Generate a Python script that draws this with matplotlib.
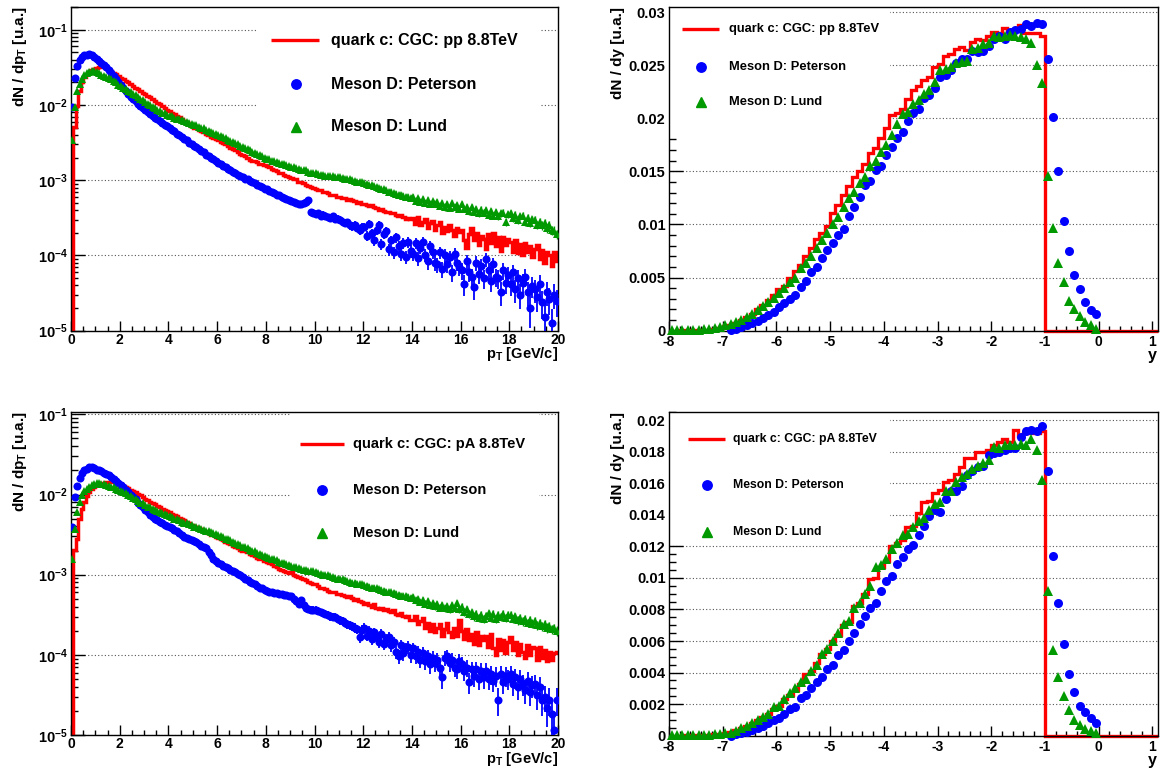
import numpy as np
import matplotlib
matplotlib.use('Agg')
import matplotlib.pyplot as plt
from matplotlib.ticker import MultipleLocator, LogLocator, FuncFormatter, NullFormatter
from matplotlib.patches import Rectangle

plt.rcParams['font.family'] = ['Liberation Sans', 'DejaVu Sans']
plt.rcParams['font.weight'] = 'bold'
plt.rcParams['mathtext.fontset'] = 'custom'
plt.rcParams['mathtext.rm'] = 'Liberation Sans:bold'
plt.rcParams['mathtext.it'] = 'Liberation Sans:bold'
plt.rcParams['mathtext.bf'] = 'Liberation Sans:bold'
plt.rcParams['mathtext.default'] = 'rm'

# ---------------- histogram binning ----------------
pt_lo, pt_hi, pt_nbins = 0.0, 20.0, 200
y_lo, y_hi, y_nbins = -8.0, 1.1, 91
y_pet_first, y_lund_first = -6.85, -7.95   # first filled bin centres of the D-meson rapidity points

# ---------------- pp : log10(dN/dpT) ----------------
pp_quark_pt_log10 = [
    -6.00, -2.29, -2.01, -1.81, -1.70, -1.63, -1.59, -1.56, -1.54, -1.52,
    -1.51, -1.50, -1.50, -1.50, -1.51, -1.53, -1.55, -1.57, -1.59, -1.61,
    -1.64, -1.66, -1.68, -1.70, -1.72, -1.75, -1.77, -1.79, -1.81, -1.84,
    -1.86, -1.88, -1.90, -1.92, -1.95, -1.97, -1.99, -2.01, -2.04, -2.06,
    -2.08, -2.10, -2.12, -2.14, -2.16, -2.19, -2.21, -2.23, -2.25, -2.28,
    -2.30, -2.31, -2.33, -2.35, -2.36, -2.39, -2.40, -2.42, -2.44, -2.45,
    -2.47, -2.49, -2.51, -2.52, -2.54, -2.57, -2.59, -2.60, -2.63, -2.65,
    -2.67, -2.68, -2.70, -2.73, -2.74, -2.75, -2.76, -2.78, -2.79, -2.80,
    -2.81, -2.83, -2.85, -2.86, -2.88, -2.90, -2.91, -2.93, -2.95, -2.96,
    -2.97, -2.99, -2.99, -3.03, -3.03, -3.04, -3.06, -3.08, -3.09, -3.10,
    -3.11, -3.13, -3.13, -3.15, -3.16, -3.17, -3.19, -3.20, -3.19, -3.22,
    -3.22, -3.23, -3.24, -3.26, -3.25, -3.26, -3.28, -3.30, -3.29, -3.31,
    -3.31, -3.33, -3.34, -3.33, -3.36, -3.37, -3.39, -3.38, -3.41, -3.42,
    -3.42, -3.44, -3.43, -3.46, -3.47, -3.46, -3.49, -3.51, -3.50, -3.52,
    -3.50, -3.58, -3.49, -3.60, -3.55, -3.52, -3.63, -3.57, -3.54, -3.66,
    -3.60, -3.56, -3.70, -3.62, -3.68, -3.59, -3.66, -3.74, -3.63, -3.69,
    -3.66, -3.80, -3.90, -3.72, -3.64, -3.79, -3.70, -3.86, -3.74, -3.78,
    -3.92, -3.72, -3.84, -3.70, -3.88, -3.76, -3.94, -3.75, -3.86, -3.78,
    -3.82, -3.95, -3.80, -3.97, -3.85, -4.00, -3.84, -3.96, -3.88, -4.02,
    -3.92, -3.86, -4.05, -3.93, -4.10, -3.95, -4.00, -4.14, -3.96, -4.08]

pp_peterson_pt_log10 = [
    -2.02, -1.64, -1.48, -1.40, -1.36, -1.34, -1.33, -1.32, -1.34, -1.36,
    -1.39, -1.41, -1.44, -1.47, -1.50, -1.53, -1.57, -1.61, -1.65, -1.69,
    -1.73, -1.77, -1.81, -1.85, -1.89, -1.92, -1.95, -1.98, -2.01, -2.04,
    -2.06, -2.09, -2.12, -2.14, -2.17, -2.19, -2.21, -2.24, -2.26, -2.28,
    -2.30, -2.33, -2.35, -2.38, -2.40, -2.43, -2.45, -2.47, -2.50, -2.52,
    -2.54, -2.56, -2.58, -2.61, -2.63, -2.66, -2.68, -2.70, -2.72, -2.75,
    -2.77, -2.79, -2.81, -2.83, -2.85, -2.87, -2.89, -2.91, -2.93, -2.94,
    -2.96, -2.98, -2.99, -3.01, -3.03, -3.04, -3.06, -3.08, -3.09, -3.11,
    -3.12, -3.14, -3.15, -3.17, -3.19, -3.20, -3.22, -3.23, -3.25, -3.26,
    -3.28, -3.29, -3.30, -3.31, -3.32, -3.30, -3.29, -3.26, -3.42, -3.43,
    -3.45, -3.44, -3.47, -3.46, -3.48, -3.49, -3.50, -3.48, -3.52, -3.51,
    -3.53, -3.55, -3.57, -3.56, -3.60, -3.61, -3.59, -3.63, -3.66, -3.62,
    -3.62, -3.74, -3.58, -3.70, -3.80, -3.66, -3.60, -3.85, -3.72, -3.68,
    -3.92, -3.80, -3.96, -3.76, -3.88, -3.98, -3.84, -4.02, -3.82, -3.94,
    -3.98, -3.84, -4.04, -3.90, -3.82, -3.99, -4.08, -3.88, -3.96, -4.10,
    -4.12, -3.96, -4.18, -4.00, -4.12, -4.02, -4.22, -3.98, -4.10, -4.16,
    -4.20, -4.38, -4.08, -4.22, -4.28, -4.42, -4.10, -4.25, -4.14, -4.30,
    -4.05, -4.20, -4.34, -4.12, -4.28, -4.30, -4.48, -4.20, -4.36, -4.26,
    -4.38, -4.22, -4.45, -4.30, -4.52, -4.36, -4.28, -4.48, -4.70, -4.40,
    -4.45, -4.55, -4.38, -4.62, -4.82, -4.48, -4.58, -4.90, -4.52, -4.60]

pp_lund_pt_log10 = [
    -2.47, -2.03, -1.81, -1.72, -1.65, -1.60, -1.58, -1.56, -1.55, -1.55,
    -1.56, -1.58, -1.60, -1.61, -1.63, -1.64, -1.66, -1.68, -1.70, -1.73,
    -1.75, -1.77, -1.79, -1.81, -1.83, -1.85, -1.87, -1.89, -1.92, -1.94,
    -1.96, -1.98, -2.00, -2.02, -2.04, -2.06, -2.08, -2.10, -2.11, -2.13,
    -2.14, -2.15, -2.17, -2.18, -2.19, -2.20, -2.21, -2.23, -2.24, -2.25,
    -2.26, -2.27, -2.29, -2.30, -2.31, -2.33, -2.34, -2.36, -2.37, -2.38,
    -2.40, -2.41, -2.43, -2.44, -2.46, -2.48, -2.49, -2.51, -2.52, -2.54,
    -2.56, -2.57, -2.59, -2.60, -2.62, -2.64, -2.65, -2.67, -2.68, -2.70,
    -2.72, -2.72, -2.74, -2.75, -2.76, -2.77, -2.78, -2.79, -2.80, -2.81,
    -2.82, -2.83, -2.84, -2.85, -2.86, -2.87, -2.87, -2.89, -2.90, -2.90,
    -2.91, -2.92, -2.93, -2.93, -2.94, -2.94, -2.95, -2.95, -2.96, -2.96,
    -2.96, -2.97, -2.98, -2.99, -2.99, -3.00, -3.01, -3.02, -3.02, -3.03,
    -3.04, -3.05, -3.06, -3.06, -3.08, -3.09, -3.10, -3.11, -3.12, -3.13,
    -3.15, -3.15, -3.17, -3.18, -3.19, -3.19, -3.21, -3.22, -3.22, -3.23,
    -3.22, -3.27, -3.24, -3.29, -3.25, -3.30, -3.26, -3.32, -3.28, -3.31,
    -3.29, -3.34, -3.30, -3.36, -3.31, -3.37, -3.30, -3.36, -3.33, -3.38,
    -3.32, -3.38, -3.35, -3.41, -3.36, -3.42, -3.38, -3.44, -3.39, -3.43,
    -3.40, -3.46, -3.41, -3.47, -3.42, -3.48, -3.44, -3.43, -3.55, -3.45,
    -3.44, -3.50, -3.46, -3.53, -3.48, -3.47, -3.55, -3.50, -3.57, -3.52,
    -3.53, -3.59, -3.55, -3.60, -3.57, -3.64, -3.60, -3.66, -3.67, -3.72]

# ---------------- pA : log10(dN/dpT) ----------------
pa_quark_pt_log10 = [
    -6.00, -2.69, -2.55, -2.30, -2.18, -2.09, -2.02, -1.97, -1.93, -1.90,
    -1.88, -1.87, -1.86, -1.85, -1.84, -1.84, -1.84, -1.84, -1.85, -1.86,
    -1.87, -1.89, -1.90, -1.92, -1.94, -1.96, -1.97, -1.99, -2.01, -2.03,
    -2.05, -2.07, -2.09, -2.11, -2.12, -2.14, -2.16, -2.18, -2.19, -2.21,
    -2.22, -2.24, -2.25, -2.27, -2.29, -2.31, -2.32, -2.34, -2.36, -2.38,
    -2.39, -2.41, -2.42, -2.43, -2.45, -2.47, -2.48, -2.50, -2.51, -2.53,
    -2.54, -2.56, -2.57, -2.59, -2.61, -2.62, -2.64, -2.65, -2.67, -2.69,
    -2.70, -2.71, -2.72, -2.74, -2.75, -2.77, -2.79, -2.80, -2.81, -2.83,
    -2.84, -2.86, -2.87, -2.89, -2.91, -2.93, -2.94, -2.95, -2.97, -2.98,
    -2.97, -3.00, -3.02, -3.03, -3.04, -3.06, -3.07, -3.09, -3.10, -3.11,
    -3.12, -3.14, -3.16, -3.17, -3.18, -3.20, -3.21, -3.22, -3.21, -3.24,
    -3.24, -3.25, -3.27, -3.28, -3.27, -3.29, -3.31, -3.30, -3.33, -3.34,
    -3.37, -3.35, -3.38, -3.40, -3.37, -3.41, -3.43, -3.42, -3.44, -3.43,
    -3.45, -3.47, -3.44, -3.49, -3.50, -3.48, -3.52, -3.53, -3.51, -3.56,
    -3.56, -3.52, -3.62, -3.58, -3.54, -3.66, -3.60, -3.70, -3.62, -3.72,
    -3.66, -3.62, -3.76, -3.68, -3.60, -3.72, -3.78, -3.66, -3.76, -3.56,
    -3.70, -3.80, -3.68, -3.82, -3.74, -3.86, -3.72, -3.88, -3.76, -3.82,
    -3.76, -3.90, -3.74, -3.92, -4.00, -3.80, -3.94, -3.82, -3.98, -3.84,
    -3.78, -3.94, -3.84, -4.00, -3.86, -3.96, -4.04, -3.88, -4.00, -3.90,
    -3.92, -4.06, -3.90, -4.04, -3.94, -4.08, -3.96, -4.06, -3.98, -3.96]

pa_peterson_pt_log10 = [
    -2.41, -2.03, -1.89, -1.79, -1.73, -1.70, -1.68, -1.66, -1.66, -1.67,
    -1.69, -1.70, -1.71, -1.73, -1.74, -1.76, -1.78, -1.81, -1.83, -1.86,
    -1.88, -1.91, -1.94, -1.97, -2.00, -2.03, -2.06, -2.10, -2.13, -2.16,
    -2.19, -2.22, -2.25, -2.28, -2.30, -2.32, -2.34, -2.36, -2.38, -2.39,
    -2.40, -2.42, -2.44, -2.46, -2.48, -2.51, -2.53, -2.54, -2.56, -2.57,
    -2.58, -2.59, -2.62, -2.64, -2.66, -2.67, -2.72, -2.76, -2.80, -2.83,
    -2.85, -2.87, -2.89, -2.90, -2.92, -2.94, -2.95, -2.97, -2.99, -3.01,
    -3.03, -3.05, -3.07, -3.09, -3.10, -3.12, -3.14, -3.16, -3.17, -3.19,
    -3.20, -3.21, -3.22, -3.23, -3.23, -3.24, -3.24, -3.25, -3.25, -3.26,
    -3.26, -3.30, -3.33, -3.37, -3.32, -3.38, -3.41, -3.43, -3.44, -3.44,
    -3.44, -3.45, -3.47, -3.48, -3.49, -3.50, -3.52, -3.53, -3.53, -3.55,
    -3.57, -3.58, -3.60, -3.62, -3.63, -3.64, -3.66, -3.68, -3.78, -3.69,
    -3.66, -3.76, -3.70, -3.80, -3.72, -3.78, -3.84, -3.74, -3.86, -3.80,
    -3.78, -3.88, -3.84, -3.96, -4.02, -3.88, -3.98, -3.92, -3.90, -4.00,
    -3.92, -4.02, -3.96, -4.06, -3.98, -4.08, -4.02, -4.12, -4.04, -4.10,
    -4.06, -4.16, -4.28, -4.04, -4.02, -4.10, -4.06, -4.16, -4.18, -4.08,
    -4.12, -4.20, -4.16, -4.34, -4.18, -4.26, -4.18, -4.30, -4.20, -4.28,
    -4.20, -4.30, -4.24, -4.32, -4.26, -4.56, -4.24, -4.34, -4.26, -4.30,
    -4.24, -4.36, -4.28, -4.40, -4.30, -4.36, -4.44, -4.32, -4.46, -4.38,
    -4.36, -4.50, -4.40, -4.56, -4.52, -4.66, -4.56, -4.74, -4.94, -4.56]

pa_lund_pt_log10 = [
    -2.81, -2.43, -2.22, -2.09, -2.01, -1.96, -1.93, -1.90, -1.88, -1.87,
    -1.86, -1.86, -1.87, -1.87, -1.88, -1.89, -1.90, -1.91, -1.93, -1.94,
    -1.95, -1.97, -1.98, -2.00, -2.02, -2.04, -2.06, -2.08, -2.10, -2.11,
    -2.13, -2.15, -2.16, -2.18, -2.19, -2.20, -2.22, -2.23, -2.24, -2.25,
    -2.27, -2.28, -2.30, -2.31, -2.32, -2.34, -2.35, -2.36, -2.37, -2.38,
    -2.40, -2.41, -2.42, -2.43, -2.44, -2.45, -2.46, -2.47, -2.48, -2.49,
    -2.50, -2.52, -2.53, -2.55, -2.56, -2.57, -2.59, -2.60, -2.62, -2.63,
    -2.65, -2.66, -2.67, -2.69, -2.70, -2.71, -2.73, -2.74, -2.75, -2.77,
    -2.78, -2.79, -2.80, -2.81, -2.82, -2.84, -2.85, -2.86, -2.87, -2.88,
    -2.89, -2.90, -2.91, -2.92, -2.93, -2.94, -2.94, -2.95, -2.96, -2.96,
    -2.97, -2.98, -2.99, -3.00, -3.00, -3.01, -3.02, -3.03, -3.04, -3.05,
    -3.06, -3.06, -3.07, -3.08, -3.09, -3.10, -3.10, -3.11, -3.12, -3.12,
    -3.13, -3.14, -3.15, -3.16, -3.16, -3.17, -3.18, -3.19, -3.20, -3.21,
    -3.22, -3.22, -3.23, -3.24, -3.25, -3.26, -3.26, -3.27, -3.28, -3.29,
    -3.28, -3.32, -3.30, -3.34, -3.31, -3.36, -3.33, -3.38, -3.35, -3.39,
    -3.37, -3.41, -3.38, -3.42, -3.39, -3.43, -3.38, -3.42, -3.35, -3.43,
    -3.40, -3.46, -3.43, -3.49, -3.47, -3.52, -3.49, -3.54, -3.50, -3.55,
    -3.51, -3.48, -3.54, -3.49, -3.55, -3.50, -3.53, -3.49, -3.54, -3.50,
    -3.50, -3.55, -3.52, -3.57, -3.54, -3.58, -3.55, -3.60, -3.57, -3.61,
    -3.58, -3.63, -3.60, -3.64, -3.62, -3.66, -3.64, -3.68, -3.67, -3.70]

# ---------------- pp : dN/dy ----------------
pp_quark_y = [
    0.00001, 0.00001, 0.00002, 0.00002, 0.00003, 0.00004, 0.00006, 0.00010, 0.00015, 0.00025,
    0.00040, 0.00055, 0.00075, 0.00100, 0.00130, 0.00160, 0.00200, 0.00245, 0.00290, 0.00340,
    0.00390, 0.00420, 0.00500, 0.00560, 0.00620, 0.00700, 0.00780, 0.00860, 0.00920, 0.00990,
    0.01110, 0.01180, 0.01280, 0.01360, 0.01450, 0.01500, 0.01570, 0.01670, 0.01720, 0.01810,
    0.01910, 0.02030, 0.02050, 0.02090, 0.02180, 0.02270, 0.02300, 0.02360, 0.02390, 0.02480,
    0.02510, 0.02590, 0.02600, 0.02650, 0.02670, 0.02640, 0.02720, 0.02750, 0.02740, 0.02770,
    0.02810, 0.02800, 0.02850, 0.02830, 0.02830, 0.02880, 0.02800, 0.02800, 0.02800, 0.02770,
    0.0, 0.0, 0.0, 0.0, 0.0, 0.0, 0.0, 0.0, 0.0, 0.0,
    0.0, 0.0, 0.0, 0.0, 0.0, 0.0, 0.0, 0.0, 0.0, 0.0, 0.0]

pp_peterson_y = [
    0.0001, 0.0002, 0.0003, 0.0005, 0.0007, 0.0009, 0.0012, 0.0015, 0.0018, 0.0022,
    0.0026, 0.0030, 0.0034, 0.0041, 0.0047, 0.0055, 0.0060, 0.0068, 0.0076, 0.0083,
    0.0090, 0.0096, 0.0108, 0.0116, 0.0126, 0.0137, 0.0141, 0.0151, 0.0155, 0.0165,
    0.0173, 0.0181, 0.0187, 0.0197, 0.0205, 0.0209, 0.0219, 0.0222, 0.0228, 0.0239,
    0.0241, 0.0245, 0.0252, 0.0256, 0.0256, 0.0263, 0.0262, 0.0263, 0.0268, 0.0275,
    0.0277, 0.0275, 0.0281, 0.0283, 0.0284, 0.0289, 0.0287, 0.0290, 0.0289, 0.0256,
    0.0201, 0.0150, 0.0103, 0.0075, 0.0052, 0.0039, 0.0027, 0.0019, 0.0016]

pp_lund_y = [
    0.00003, 0.00003, 0.00005, 0.00005, 0.00008, 0.00010, 0.00012, 0.00018, 0.00025, 0.00035,
    0.0005, 0.0006, 0.0008, 0.0010, 0.0013, 0.0016, 0.0019, 0.0023, 0.0027, 0.0031,
    0.0035, 0.0040, 0.0046, 0.0050, 0.0059, 0.0064, 0.0070, 0.0078, 0.0085, 0.0092,
    0.0100, 0.0107, 0.0116, 0.0125, 0.0131, 0.0139, 0.0145, 0.0155, 0.0160, 0.0168,
    0.0175, 0.0184, 0.0195, 0.0204, 0.0206, 0.0213, 0.0217, 0.0223, 0.0227, 0.0234,
    0.0245, 0.0246, 0.0248, 0.0252, 0.0253, 0.0254, 0.0265, 0.0266, 0.0270, 0.0271,
    0.0277, 0.0276, 0.0277, 0.0278, 0.0277, 0.0276, 0.0275, 0.0271, 0.0250, 0.0233,
    0.0146, 0.0097, 0.0064, 0.0046, 0.0028, 0.0020, 0.0014, 0.0008, 0.0005, 0.0002]

# ---------------- pA : dN/dy ----------------
pa_quark_y = [
    0.00001, 0.00001, 0.00001, 0.00002, 0.00002, 0.00003, 0.00004, 0.00006, 0.00008, 0.00012,
    0.00015, 0.00025, 0.00036, 0.00050, 0.00060, 0.00080, 0.00100, 0.00120, 0.00140, 0.00170,
    0.0019, 0.0023, 0.0026, 0.0029, 0.0033, 0.0039, 0.0041, 0.0046, 0.0052, 0.0055,
    0.0060, 0.0064, 0.0070, 0.0072, 0.0082, 0.0084, 0.0090, 0.0099, 0.0100, 0.0107,
    0.0111, 0.0120, 0.0122, 0.0124, 0.0132, 0.0133, 0.0141, 0.0148, 0.0149, 0.0154,
    0.0156, 0.0161, 0.0162, 0.0166, 0.0170, 0.0176, 0.0176, 0.0180, 0.0180, 0.0181,
    0.0184, 0.0186, 0.0188, 0.0186, 0.0194, 0.0190, 0.0192, 0.0192, 0.0192, 0.0193,
    0.0, 0.0, 0.0, 0.0, 0.0, 0.0, 0.0, 0.0, 0.0, 0.0,
    0.0, 0.0, 0.0, 0.0, 0.0, 0.0, 0.0, 0.0, 0.0, 0.0, 0.0]

pa_peterson_y = [
    0.0000, 0.0001, 0.00015, 0.00025, 0.00036, 0.0005, 0.0006, 0.0008, 0.0010, 0.0011,
    0.0014, 0.0017, 0.0018, 0.0024, 0.0026, 0.0030, 0.0034, 0.0037, 0.0042, 0.0045,
    0.0051, 0.0054, 0.0060, 0.0065, 0.0071, 0.0076, 0.0081, 0.0084, 0.0092, 0.0098,
    0.0101, 0.0109, 0.0113, 0.0118, 0.0121, 0.0127, 0.0133, 0.0139, 0.0143, 0.0142,
    0.0150, 0.0155, 0.0155, 0.0158, 0.0165, 0.0168, 0.0170, 0.0171, 0.0178, 0.0179,
    0.0180, 0.0181, 0.0182, 0.0182, 0.0189, 0.0193, 0.0194, 0.0193, 0.0196, 0.0168,
    0.0114, 0.0084, 0.0058, 0.0039, 0.0028, 0.0019, 0.0015, 0.0011, 0.0008]

pa_lund_y = [
    0.00002, 0.00002, 0.00003, 0.00003, 0.00004, 0.00005, 0.00006, 0.00007, 0.00008, 0.00010,
    0.00015, 0.0002, 0.0003, 0.0005, 0.0006, 0.0008, 0.0010, 0.0012, 0.0014, 0.0018,
    0.0019, 0.0023, 0.0027, 0.0030, 0.0034, 0.0036, 0.0041, 0.0045, 0.0052, 0.0055,
    0.0060, 0.0065, 0.0071, 0.0073, 0.0081, 0.0084, 0.0090, 0.0095, 0.0107, 0.0108,
    0.0112, 0.0118, 0.0122, 0.0127, 0.0128, 0.0132, 0.0136, 0.0138, 0.0143, 0.0147,
    0.0148, 0.0155, 0.0155, 0.0161, 0.0164, 0.0166, 0.0169, 0.0171, 0.0173, 0.0175,
    0.0183, 0.0182, 0.0184, 0.0184, 0.0184, 0.0185, 0.0184, 0.0188, 0.0181, 0.0162,
    0.0092, 0.0054, 0.0037, 0.0025, 0.0016, 0.0010, 0.0007, 0.0004, 0.0003, 0.0002]

stat_weight = 4e-6   # per-entry weight

label_quark_pp = 'quark c: CGC: pp 8.8TeV'
label_quark_pa = 'quark c: CGC: pA 8.8TeV'
label_pet = 'Meson D: Peterson'
label_lund = 'Meson D: Lund'

RED, BLUE, GREEN = '#ff0000', '#0000ff', '#009900'
GRID = dict(color='#555555', linestyle=(0, (1, 2)), linewidth=0.8)

pt_edges = np.linspace(pt_lo, pt_hi, pt_nbins + 1)
pt_centers = 0.5 * (pt_edges[:-1] + pt_edges[1:])
y_edges = np.linspace(y_lo, y_hi, y_nbins + 1)

fig = plt.figure(figsize=(11.71, 7.69), dpi=100)
W, H = 1171.0, 769.0
ax_tl = fig.add_axes([71 / W, 0.5700, 487 / W, 0.4213])
ax_tr = fig.add_axes([669 / W, 0.5700, 488.7 / W, 0.4213])
ax_bl = fig.add_axes([71 / W, 0.0442, 487 / W, 0.4204])
ax_br = fig.add_axes([669 / W, 0.0433, 488.7 / W, 0.4213])

TITLE_Y = -0.101


def frame(ax):
    for s in ax.spines.values():
        s.set_linewidth(1.0)
        s.set_color('black')
    ax.set_axisbelow(True)
    ax.yaxis.grid(True, which='major', **GRID)
    ax.xaxis.grid(False)
    ax.tick_params(which='both', direction='in', top=False, right=False,
                   labelsize=10.5, pad=2.5, width=1)
    ax.tick_params(axis='x', labelsize=10, pad=1.5)


def legend(ax, box, line_x, mark_x, text_x, rows, fs, labels, ms):
    ax.add_patch(Rectangle((box[0], box[1]), box[2], box[3], transform=ax.transAxes,
                           facecolor='white', edgecolor='none', zorder=1))
    ax.plot(line_x, [rows[0], rows[0]], color=RED, lw=2.4, transform=ax.transAxes,
            zorder=6, solid_capstyle='butt')
    ax.plot([mark_x], [rows[1]], 'o', color=BLUE, ms=ms[0], transform=ax.transAxes, zorder=6)
    ax.plot([mark_x], [rows[2]], '^', color=GREEN, ms=ms[1], transform=ax.transAxes, zorder=6)
    for r, lab in zip(rows, labels):
        ax.text(text_x, r, lab, transform=ax.transAxes, fontsize=fs, fontweight='bold',
                ha='left', va='center', zorder=6)


def pt_panel(ax, q_log, p_log, l_log, ytop_log, qlabel, leg):
    q = 10 ** np.array(q_log)
    p = 10 ** np.array(p_log)
    l = 10 ** np.array(l_log)
    frame(ax)
    ax.set_yscale('log')
    ax.set_xlim(pt_lo, pt_hi)
    ax.set_ylim(1e-5, 10 ** ytop_log)
    ax.stairs(q, pt_edges, baseline=None, color=RED, lw=2.5, zorder=2)
    ax.errorbar(pt_centers, p, yerr=np.sqrt(p * stat_weight), fmt='o', color=BLUE,
                ms=5.8, mew=0, elinewidth=1.3, capsize=0, zorder=3)
    ax.errorbar(pt_centers, l, yerr=np.sqrt(l * stat_weight), fmt='^', color=GREEN,
                ms=6.2, mew=0, elinewidth=1.0, capsize=0, zorder=4)
    ax.xaxis.set_major_locator(MultipleLocator(2))
    ax.xaxis.set_minor_locator(MultipleLocator(0.5))
    ax.yaxis.set_major_locator(LogLocator(base=10, numticks=12))
    ax.yaxis.set_minor_locator(LogLocator(base=10, subs=np.arange(2, 10), numticks=40))
    ax.yaxis.set_minor_formatter(NullFormatter())
    ax.yaxis.set_major_formatter(FuncFormatter(lambda v, pos: r'$10^{%d}$' % int(round(np.log10(v)))))
    ax.xaxis.set_major_formatter(FuncFormatter(lambda v, pos: '%g' % v))
    ax.tick_params(axis='x', which='major', length=7)
    ax.tick_params(axis='x', which='minor', length=3.5)
    ax.tick_params(axis='y', which='major', length=10)
    ax.tick_params(axis='y', which='minor', length=5)
    ax.text(-0.104, 1.0, r'dN / dp$_{T}$ [u.a.]', transform=ax.transAxes, rotation=90,
            ha='center', va='top', fontsize=11, fontweight='bold')
    ax.text(1.0, TITLE_Y, r'p$_{T}$ [GeV/c]', transform=ax.transAxes, ha='right',
            va='bottom', fontsize=10.5, fontweight='bold')
    legend(ax, leg['box'], leg['line'], leg['mark'], leg['text'], leg['rows'], leg['fs'],
           [qlabel, label_pet, label_lund], (6.8, 6.8))


def y_panel(ax, q, p, l, ytop, major, minor, qlabel, leg):
    frame(ax)
    ax.set_xlim(y_lo, y_hi)
    ax.set_ylim(0, ytop)
    ax.stairs(np.array(q), y_edges, baseline=None, color=RED, lw=2.4, zorder=2, clip_on=False)
    p = np.array(p)
    l = np.array(l)
    px = y_pet_first + 0.1 * np.arange(len(p))
    lx = y_lund_first + 0.1 * np.arange(len(l))
    ax.plot(px, p, 'o', color=BLUE, ms=6.5, mew=0, zorder=3, clip_on=False)
    ax.plot(lx, l, '^', color=GREEN, ms=6.5, mew=0, zorder=4, clip_on=False)
    ax.xaxis.set_major_locator(MultipleLocator(1))
    ax.xaxis.set_minor_locator(MultipleLocator(0.2))
    ax.yaxis.set_major_locator(MultipleLocator(major))
    ax.yaxis.set_minor_locator(MultipleLocator(minor))
    ax.yaxis.set_major_formatter(FuncFormatter(lambda v, pos: '%g' % round(v, 6)))
    ax.xaxis.set_major_formatter(FuncFormatter(lambda v, pos: '%g' % round(v, 6)))
    ax.tick_params(axis='x', which='major', length=7, pad=3)
    ax.tick_params(axis='x', which='minor', length=3.5)
    ax.tick_params(axis='y', which='major', length=10)
    ax.tick_params(axis='y', which='minor', length=5)
    ax.text(-0.104, 1.0, 'dN / dy [u.a.]', transform=ax.transAxes, rotation=90,
            ha='center', va='top', fontsize=11, fontweight='bold')
    ax.text(0.998, TITLE_Y, 'y', transform=ax.transAxes, ha='right',
            va='bottom', fontsize=11.5, fontweight='bold')
    legend(ax, leg['box'], leg['line'], leg['mark'], leg['text'], leg['rows'], leg['fs'],
           [qlabel, label_pet, label_lund], (6.8, 6.8))


pt_panel(ax_tl, pp_quark_pt_log10, pp_peterson_pt_log10, pp_lund_pt_log10, -0.693,
         label_quark_pp,
         dict(box=(0.385, 0.58, 0.58, 0.42), line=[0.411, 0.510], mark=0.461, text=0.533,
              rows=(0.897, 0.760, 0.630), fs=11.5))
pt_panel(ax_bl, pa_quark_pt_log10, pa_peterson_pt_log10, pa_lund_pt_log10, -0.967,
         label_quark_pa,
         dict(box=(0.449, 0.57, 0.513, 0.43), line=[0.470, 0.561], mark=0.515, text=0.580,
              rows=(0.899, 0.758, 0.626), fs=10.5))
y_panel(ax_tr, pp_quark_y, pp_peterson_y, pp_lund_y, 0.0305, 0.005, 0.001, label_quark_pp,
        dict(box=(0.0, 0.60, 0.452, 0.40), line=[0.027, 0.102], mark=0.066, text=0.122,
             rows=(0.931, 0.815, 0.705), fs=9.3))
y_panel(ax_br, pa_quark_y, pa_peterson_y, pa_lund_y, 0.02053, 0.002, 0.0005, label_quark_pa,
        dict(box=(0.0, 0.60, 0.452, 0.40), line=[0.039, 0.114], mark=0.077, text=0.131,
             rows=(0.916, 0.774, 0.630), fs=8.8))

fig.savefig('out.png', dpi=100)
